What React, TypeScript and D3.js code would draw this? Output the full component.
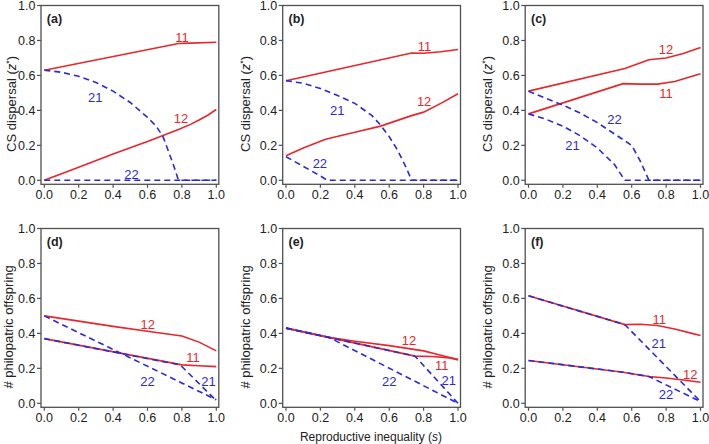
import React from "react";
import * as d3 from "d3";

// ---------- DATA ----------
const xTicks = [0, 0.2, 0.4, 0.6, 0.8, 1.0];
const yTicks = [0, 0.2, 0.4, 0.6, 0.8, 1.0];
const panelLetters = ["(a)", "(b)", "(c)", "(d)", "(e)", "(f)"];
const yLabelTop = "CS dispersal";
const yLabelBottom = "# philopatric offspring";
const xTitle = "Reproductive inequality";

type P = [number, number];

// panel (a)
const a11: P[] = [[0, 0.63], [0.78, 0.783], [0.85, 0.785], [1.0, 0.79]];
const a12: P[] = [[0, 0], [0.2, 0.075], [0.4, 0.15], [0.6, 0.222], [0.78, 0.29], [0.85, 0.32], [0.9, 0.345], [0.95, 0.372], [1.0, 0.405]];
const a21: P[] = [[0, 0.63], [0.1, 0.618], [0.2, 0.595], [0.3, 0.56], [0.4, 0.51], [0.5, 0.445], [0.6, 0.36], [0.65, 0.31], [0.69, 0.25], [0.72, 0.17], [0.75, 0.09], [0.78, 0.0], [1.0, 0.0]];
const a22: P[] = [[0, 0], [1.0, 0]];

// panel (b)
const b11: P[] = [[0, 0.57], [0.73, 0.728], [0.8, 0.727], [0.9, 0.735], [1.0, 0.748]];
const b12: P[] = [[0, 0.14], [0.1, 0.185], [0.23, 0.235], [0.4, 0.275], [0.55, 0.31], [0.73, 0.37], [0.8, 0.39], [0.9, 0.44], [1.0, 0.495]];
const b21: P[] = [[0, 0.57], [0.1, 0.555], [0.2, 0.525], [0.3, 0.485], [0.4, 0.44], [0.5, 0.37], [0.55, 0.315], [0.6, 0.25], [0.65, 0.17], [0.7, 0.07], [0.73, 0.0], [1.0, 0.0]];
const b22: P[] = [[0, 0.135], [0.1, 0.08], [0.2, 0.025], [0.24, 0.0], [1.0, 0.0]];

// panel (c)
const c11: P[] = [[0, 0.38], [0.55, 0.553], [0.65, 0.55], [0.75, 0.55], [0.85, 0.565], [1.0, 0.61]];
const c12: P[] = [[0, 0.51], [0.56, 0.64], [0.7, 0.69], [0.8, 0.7], [0.9, 0.725], [1.0, 0.76]];
const c21: P[] = [[0, 0.38], [0.1, 0.35], [0.2, 0.31], [0.3, 0.255], [0.4, 0.185], [0.5, 0.09], [0.56, 0.0], [1.0, 0.0]];
const c22: P[] = [[0, 0.51], [0.1, 0.47], [0.2, 0.43], [0.3, 0.385], [0.4, 0.33], [0.5, 0.265], [0.6, 0.2], [0.65, 0.11], [0.7, 0.0], [1.0, 0.0]];

// panel (d)
const d11: P[] = [[0, 0.37], [0.8, 0.22], [0.9, 0.215], [1.0, 0.21]];
const d12: P[] = [[0, 0.5], [0.2, 0.47], [0.4, 0.44], [0.6, 0.412], [0.8, 0.385], [0.9, 0.35], [1.0, 0.3]];
const d21: P[] = [[0, 0.37], [0.79, 0.22], [1.0, 0.015]];
const d22: P[] = [[0, 0.5], [1.0, 0.02]];

// panel (e)
const e11: P[] = [[0, 0.43], [0.75, 0.27], [0.85, 0.268], [0.95, 0.26], [1.0, 0.25]];
const e12: P[] = [[0, 0.43], [0.25, 0.377], [0.4, 0.355], [0.6, 0.33], [0.8, 0.3], [0.9, 0.275], [1.0, 0.25]];
const e21: P[] = [[0, 0.43], [0.75, 0.27], [1.0, 0.0]];
const e22: P[] = [[0, 0.43], [0.25, 0.377], [1.0, 0.0]];

// panel (f)
const f11: P[] = [[0, 0.615], [0.56, 0.45], [0.65, 0.452], [0.75, 0.445], [0.85, 0.425], [0.95, 0.4], [1.0, 0.388]];
const f12: P[] = [[0, 0.245], [0.55, 0.178], [0.7, 0.153], [0.8, 0.145], [0.9, 0.133], [1.0, 0.12]];
const f21: P[] = [[0, 0.615], [0.56, 0.45], [1.0, 0.01]];
const f22: P[] = [[0, 0.245], [0.55, 0.178], [0.7, 0.153], [1.0, 0.01]];

// series labels: [name, s, value]
type L = [string, number, number];
const aLabels: L[] = [["11", 0.8, 0.817], ["12", 0.795, 0.352], ["21", 0.296, 0.477], ["22", 0.507, 0.035]];
const bLabels: L[] = [["11", 0.805, 0.764], ["12", 0.803, 0.453], ["21", 0.298, 0.4], ["22", 0.197, 0.095]];
const cLabels: L[] = [["12", 0.8, 0.749], ["11", 0.8, 0.5], ["22", 0.5, 0.349], ["21", 0.256, 0.2]];
const dLabels: L[] = [["12", 0.602, 0.449], ["11", 0.864, 0.262], ["21", 0.955, 0.124], ["22", 0.6, 0.128]];
const eLabels: L[] = [["12", 0.715, 0.36], ["11", 0.906, 0.218], ["21", 0.946, 0.133], ["22", 0.6, 0.127]];
const fLabels: L[] = [["11", 0.76, 0.478], ["12", 0.94, 0.168], ["21", 0.757, 0.344], ["22", 0.8, 0.05]];

const panels = [
  { red: [a11, a12], blue: [a21, a22], labels: aLabels },
  { red: [b11, b12], blue: [b21, b22], labels: bLabels },
  { red: [c11, c12], blue: [c21, c22], labels: cLabels },
  { red: [d11, d12], blue: [d21, d22], labels: dLabels },
  { red: [e11, e12], blue: [e21, e22], labels: eLabels },
  { red: [f11, f12], blue: [f21, f22], labels: fLabels },
];

// ---------- LAYOUT ----------
const W = 709;
const H = 444;
const colX0 = [44.3, 286, 528.5];
const plotW = 172;
const rowY1 = [5.5, 228.5];
const plotH = 174.8;
const yLabelX = [[15.5, 249.5, 492], [13, 249.5, 492]];
const yLabelYOff = 11;
const RED = "#e8262b";
const BLUE = "#2b2bd6";
const AXIS = "#505050";
const TEXT = "#222222";
const FONT = "'Liberation Sans', Arial, sans-serif";

function Panel({ idx }: { idx: number }) {
  const row = Math.floor(idx / 3);
  const col = idx % 3;
  const p = panels[idx];
  const x0 = colX0[col];
  const y1 = rowY1[row];
  const x = d3.scaleLinear().domain([0, 1]).range([x0, x0 + plotW]);
  const y = d3.scaleLinear().domain([0, 1]).range([y1 + plotH, y1]);
  const line = d3.line<P>().x((d) => x(d[0])).y((d) => y(d[1]));
  const fl = x0 - 3.3;
  const fr = x0 + plotW + 2.5;
  const ft = y1;
  const fb = y1 + plotH + 4;
  const labX = yLabelX[row][col];
  const labY = y1 + plotH / 2 + yLabelYOff;
  return (
    <g>
      <rect x={fl} y={ft} width={fr - fl} height={fb - ft} fill="none" stroke={AXIS} strokeWidth={1.3} />
      {yTicks.map((t) => (
        <g key={"y" + t}>
          <line x1={fl - 4} x2={fl} y1={y(t)} y2={y(t)} stroke={AXIS} strokeWidth={1.2} />
          <text x={fl - 5.5} y={y(t)} dy="0.36em" textAnchor="end" fontSize={12.5} fill={TEXT} fontFamily={FONT}>
            {d3.format(".1f")(t)}
          </text>
        </g>
      ))}
      {xTicks.map((t) => (
        <g key={"x" + t}>
          <line x1={x(t)} x2={x(t)} y1={fb} y2={fb + 3.5} stroke={AXIS} strokeWidth={1.2} />
          <text x={x(t)} y={fb + 15} textAnchor="middle" fontSize={12.5} fill={TEXT} fontFamily={FONT}>
            {d3.format(".1f")(t)}
          </text>
        </g>
      ))}
      <text x={x0 + 2.5} y={y1 + 17} fontSize={12.5} fontWeight="bold" fill={TEXT} fontFamily={FONT}>
        {panelLetters[idx]}
      </text>
      <text
        transform={`translate(${labX},${labY}) rotate(-90)`}
        textAnchor="middle"
        fontSize={13}
        fill={TEXT}
        fontFamily={FONT}
      >
        {row === 0 ? (
          <>
            {yLabelTop + " ("}
            <tspan fontStyle="italic">z</tspan>
            <tspan dy="-4" fontSize={9}>*</tspan>
            <tspan dy="4">)</tspan>
          </>
        ) : (
          yLabelBottom
        )}
      </text>
      {p.red.map((s, i) => (
        <path key={"r" + i} d={line(s) || ""} fill="none" stroke={RED} strokeWidth={1.6} />
      ))}
      {p.blue.map((s, i) => (
        <path key={"b" + i} d={line(s) || ""} fill="none" stroke={BLUE} strokeWidth={1.6} strokeDasharray="6,4" />
      ))}
      {p.labels.map((l, i) => (
        <text
          key={"l" + i}
          x={x(l[1])}
          y={y(l[2])}
          dy="0.36em"
          textAnchor="middle"
          fontSize={13}
          fill={l[0][0] === "1" ? RED : BLUE}
          fontFamily={FONT}
        >
          {l[0]}
        </text>
      ))}
    </g>
  );
}

export default function App() {
  return (
    <svg
      width={W}
      height={H}
      style={{ position: "absolute", left: 0, top: 0, background: "#fff" }}
      xmlns="http://www.w3.org/2000/svg"
    >
      {panels.map((_, i) => (
        <Panel key={i} idx={i} />
      ))}
      <text x={371} y={441} textAnchor="middle" fontSize={12} fill={TEXT} fontFamily={FONT}>
        {xTitle + " ("}
        <tspan fontStyle="italic">s</tspan>
        {")"}
      </text>
    </svg>
  );
}
